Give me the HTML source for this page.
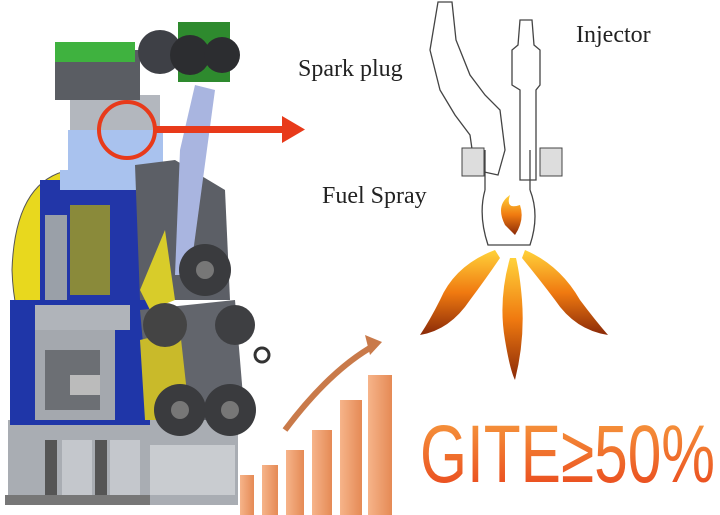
<!DOCTYPE html>
<html><head><style>
body{margin:0;width:720px;height:515px;background:#fff;overflow:hidden;position:relative;font-family:"Liberation Serif",serif}
.t{position:absolute;font-size:24px;color:#222}
</style></head><body>
<svg width="720" height="515" style="position:absolute;left:0;top:0">
<defs>
<linearGradient id="fl" x1="0" y1="0" x2="0" y2="1"><stop offset="0" stop-color="#ffd23a"/><stop offset=".5" stop-color="#f07a10"/><stop offset="1" stop-color="#8a2a08"/></linearGradient>
<linearGradient id="bar" x1="0" y1="0" x2="1" y2="0"><stop offset="0" stop-color="#f6b48a"/><stop offset="1" stop-color="#e58a55"/></linearGradient>
<linearGradient id="txt" x1="0" y1="0" x2="0" y2="1"><stop offset="0" stop-color="#f7a040"/><stop offset="1" stop-color="#e8401a"/></linearGradient>
</defs>
<rect x="8" y="420" width="230" height="85" fill="#a9adb3"/>
<rect x="45" y="440" width="12" height="60" fill="#555"/>
<rect x="62" y="440" width="30" height="60" fill="#c4c7cc"/>
<rect x="95" y="440" width="12" height="60" fill="#555"/>
<rect x="110" y="440" width="30" height="60" fill="#c4c7cc"/>
<rect x="150" y="445" width="85" height="50" fill="#c9ccd0"/>
<rect x="5" y="495" width="145" height="10" fill="#777"/>
<path d="M70,170 Q15,180 12,270 Q15,360 70,370 Z" fill="#e8d81e" stroke="#555"/>
<rect x="40" y="180" width="100" height="125" fill="#2236a8"/>
<rect x="70" y="205" width="40" height="90" fill="#8a8a3a"/>
<rect x="45" y="215" width="22" height="85" fill="#9aa0a8"/>
<rect x="10" y="300" width="140" height="125" fill="#1f36a8"/>
<rect x="35" y="330" width="80" height="90" fill="#a4a8ae"/>
<rect x="45" y="350" width="55" height="60" fill="#6c6f74"/>
<rect x="70" y="375" width="30" height="20" fill="#bbb"/>
<rect x="35" y="305" width="95" height="25" fill="#b0b4ba"/>
<rect x="70" y="95" width="90" height="40" fill="#b3b7be"/>
<rect x="68" y="130" width="95" height="60" fill="#a9c2ee"/>
<rect x="60" y="170" width="90" height="20" fill="#a9c2ee"/>
<polygon points="135,165 175,160 225,190 230,300 140,300" fill="#5c5f66"/>
<polygon points="140,290 165,230 175,300 150,310" fill="#d8cc2a"/>
<polygon points="140,310 235,300 245,420 150,420" fill="#62656c"/>
<polygon points="140,340 180,330 190,420 145,420" fill="#c9ba2a"/>
<rect x="55" y="50" width="85" height="50" fill="#5a5d63"/>
<rect x="55" y="42" width="80" height="20" fill="#3fb23f"/>
<rect x="178" y="22" width="52" height="60" fill="#2e8a2e"/>
<circle cx="160" cy="52" r="22" fill="#3e4046"/><circle cx="190" cy="55" r="20" fill="#2c2d30"/><circle cx="222" cy="55" r="18" fill="#2c2d30"/>
<polygon points="195,85 215,90 190,275 175,275 180,150" fill="#a9b5e0"/>
<circle cx="205" cy="270" r="26" fill="#3a3b3e"/><circle cx="205" cy="270" r="9" fill="#777"/>
<circle cx="165" cy="325" r="22" fill="#444"/>
<circle cx="235" cy="325" r="20" fill="#3e3f42"/>
<circle cx="180" cy="410" r="26" fill="#3a3b3e"/><circle cx="180" cy="410" r="9" fill="#777"/>
<circle cx="230" cy="410" r="26" fill="#3a3b3e"/><circle cx="230" cy="410" r="9" fill="#777"/>
<circle cx="262" cy="355" r="7" fill="none" stroke="#333" stroke-width="3"/>
<circle cx="127" cy="130" r="28" fill="none" stroke="#e83a1a" stroke-width="4"/>
<rect x="155" y="126" width="130" height="7" fill="#e83a1a"/>
<polygon points="282,116 305,129.5 282,143" fill="#e83a1a"/>
<g fill="none" stroke="#444" stroke-width="1.3">
<polygon points="438,2 452,2 456,40 470,75 485,95 500,110 505,150 498,175 475,170 470,135 455,115 440,90 430,50"/>
<polygon points="520,20 532,20 534,45 540,50 540,85 536,90 536,180 520,180 520,90 512,85 512,50 518,45"/>
<path d="M485,150 L485,190 M530,150 L530,190 M485,190 Q478,215 488,245 L530,245 Q540,215 530,190"/>
</g>
<rect x="462" y="148" width="22" height="28" fill="#ddd" stroke="#444"/>
<rect x="540" y="148" width="22" height="28" fill="#ddd" stroke="#444"/>
<path d="M505,225 Q495,205 510,195 Q505,210 520,205 Q525,220 515,235 Z" fill="url(#fl)"/>
<path d="M495,250 Q455,265 440,300 Q430,320 420,335 Q450,330 470,300 Q485,280 500,258 Z" fill="url(#fl)"/>
<path d="M510,258 Q498,300 505,340 Q510,370 515,380 Q525,340 522,300 Q520,275 516,258 Z" fill="url(#fl)"/>
<path d="M525,250 Q560,265 580,300 Q595,320 608,335 Q575,330 555,300 Q540,280 522,258 Z" fill="url(#fl)"/>
<path d="M285,430 Q330,370 375,345" fill="none" stroke="#c97a4a" stroke-width="6"/>
<polygon points="365,335 382,342 370,355" fill="#c97a4a"/>
<rect x="240" y="475" width="14" height="40" fill="url(#bar)"/>
<rect x="262" y="465" width="16" height="50" fill="url(#bar)"/>
<rect x="286" y="450" width="18" height="65" fill="url(#bar)"/>
<rect x="312" y="430" width="20" height="85" fill="url(#bar)"/>
<rect x="340" y="400" width="22" height="115" fill="url(#bar)"/>
<rect x="368" y="375" width="24" height="140" fill="url(#bar)"/>
<text x="420" y="482" font-family="Liberation Sans,sans-serif" font-size="82" fill="url(#txt)" textLength="295" lengthAdjust="spacingAndGlyphs">GITE≥50%</text>
</svg>
<div class="t" style="left:576px;top:22px">Injector</div>
<div class="t" style="left:298px;top:56px">Spark plug</div>
<div class="t" style="left:322px;top:183px">Fuel Spray</div>
</body></html>
